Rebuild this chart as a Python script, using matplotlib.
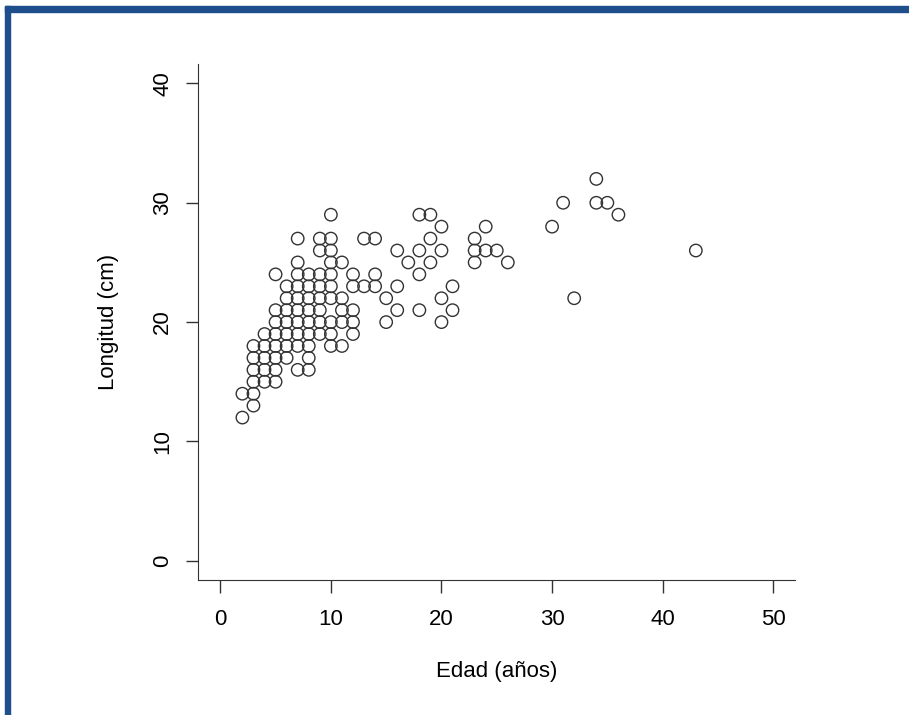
import matplotlib
matplotlib.use("Agg")
import matplotlib.pyplot as plt
from matplotlib.patches import Rectangle

plt.rcParams['font.family'] = ['Liberation Sans', 'DejaVu Sans']

# edad (años) -> longitudes (cm) observadas en esa edad
edades = [2, 3, 4, 5, 6, 7, 8, 9, 10, 11, 12, 13, 14, 15, 16, 17, 18, 19, 20,
          21, 23, 24, 25, 26, 30, 31, 32, 34, 35, 36, 43]
longitudes = [
    [12, 14],
    [13, 14, 15, 16, 17, 18],
    [15, 16, 17, 18, 19],
    [15, 16, 17, 18, 19, 20, 21, 24],
    [17, 18, 19, 20, 21, 22, 23],
    [16, 18, 19, 20, 21, 22, 23, 24, 25, 27],
    [16, 17, 18, 19, 20, 21, 22, 23, 24],
    [19, 20, 21, 22, 23, 24, 26, 27],
    [18, 19, 20, 22, 23, 24, 25, 26, 27, 29],
    [18, 20, 21, 22, 25],
    [19, 20, 21, 23, 24],
    [23, 27],
    [23, 24, 27],
    [20, 22],
    [21, 23, 26],
    [25],
    [21, 24, 26, 29],
    [25, 27, 29],
    [20, 22, 26, 28],
    [21, 23],
    [25, 26, 27],
    [26, 28],
    [26],
    [25],
    [28],
    [30],
    [22],
    [30, 32],
    [30],
    [29],
    [26],
]

x = [e for e, ls in zip(edades, longitudes) for _ in ls]
y = [l for ls in longitudes for l in ls]

fig = plt.figure(figsize=(9.09, 7.15), dpi=100)
ax = fig.add_axes([0.218, 0.189, 0.657, 0.721])

ax.scatter(x, y, s=80, facecolors='none', edgecolors='#333333', linewidths=1.0)

ax.set_xlim(-2, 52)
ax.set_ylim(-1.6, 41.6)
ax.set_xticks([0, 10, 20, 30, 40, 50])
ax.set_yticks([0, 10, 20, 30, 40])
ax.spines['top'].set_visible(False)
ax.spines['right'].set_visible(False)
for sp in ('left', 'bottom'):
    ax.spines[sp].set_color('#333333')
ax.tick_params(direction='out', length=9, width=1, color='#333333',
               labelsize=16, pad=9)
ax.tick_params(axis='x', pad=12)
plt.setp(ax.get_yticklabels(), rotation=90, va='center')

ax.set_xlabel('Edad (años)', fontsize=16, labelpad=22)
ax.set_ylabel('Longitud (cm)', fontsize=16, labelpad=24)

# marco azul (solo arriba e izquierda)
fig.patches.append(Rectangle((5 / 909, 0), 5 / 909, 1 - 6 / 715,
                             transform=fig.transFigure, color='#1f4e8c'))
fig.patches.append(Rectangle((5 / 909, 1 - 12 / 715), 1, 6 / 715,
                             transform=fig.transFigure, color='#1f4e8c'))

fig.savefig('out.png', dpi=100)
